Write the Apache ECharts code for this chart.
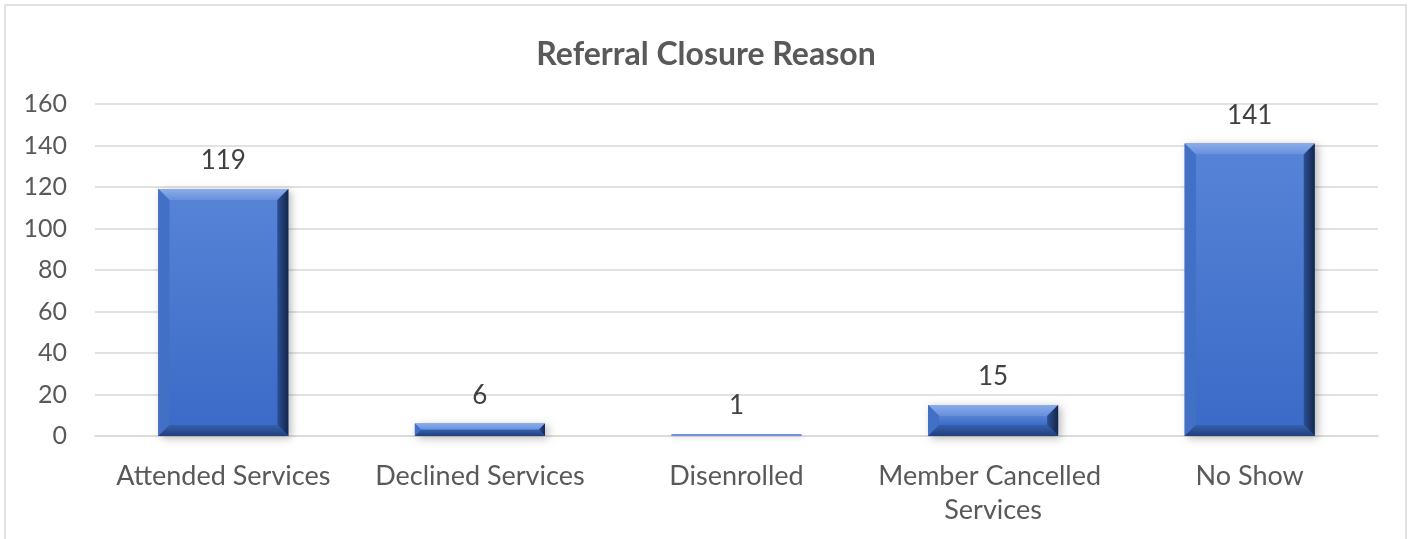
<!DOCTYPE html>
<html>
<head>
<meta charset="utf-8">
<script src="https://cdn.jsdelivr.net/npm/echarts@6/dist/echarts.min.js"></script>
<style>
  html, body { margin: 0; padding: 0; background: #ffffff; }
  #chart { width: 1412px; height: 539px; }
</style>
</head>
<body>
<div id="chart"></div>
<script>
// Referral closure reasons and their counts
const categories = ['Attended Services', 'Declined Services', 'Disenrolled', 'Member Cancelled Services', 'No Show'];
const counts = [119, 6, 1, 15, 141];
const yMin = 0, yMax = 160, yStep = 20;

const FONT = 'Lato, "Open Sans", sans-serif';

function valueText(x, y, v) {
  return {
    type: 'text',
    style: {
      text: String(v), x: x, y: y,
      align: 'center', verticalAlign: 'middle',
      fill: '#404040', font: '26px ' + FONT
    }
  };
}

// Bevelled column: a flat face framed by four shaded edges
function renderBevelBar(params, api) {
  const idx = api.value(0);
  const v = api.value(1);
  const top = api.coord([idx, v]);
  const base = api.coord([idx, 0]);
  const bw = api.size([1, 0])[0] * 0.507;
  const x0 = top[0] - bw / 2, x1 = top[0] + bw / 2;
  const y0 = top[1], y1 = base[1];
  const h = Math.max(y1 - y0, 1);
  const b = Math.min(11, h / 2, bw / 2);

  if (h < 4) {
    // very short column: a thin blue line
    return {
      type: 'group',
      children: [
        {
          type: 'rect',
          shape: { x: x0, y: y0, width: bw, height: h },
          style: { fill: '#6f94dc', shadowBlur: 4, shadowColor: 'rgba(0,0,0,0.15)', shadowOffsetY: 2 }
        },
        valueText(top[0], y0 - 28, v)
      ]
    };
  }

  const poly = (pts, fill) => ({ type: 'polygon', shape: { points: pts }, style: { fill: fill } });
  return {
    type: 'group',
    children: [
      {
        type: 'rect',
        shape: { x: x0, y: y0, width: bw, height: h },
        style: {
          fill: '#3f6fcb',
          shadowBlur: 8, shadowColor: 'rgba(0,0,0,0.28)', shadowOffsetX: 3, shadowOffsetY: 2
        }
      },
      {
        type: 'rect',
        shape: { x: x0 + b, y: y0 + b, width: bw - 2 * b, height: h - 2 * b },
        style: {
          fill: new echarts.graphic.LinearGradient(0, 0, 0, 1, [
            { offset: 0, color: '#5683d6' },
            { offset: 1, color: '#3b6bc8' }
          ])
        }
      },
      poly([[x0, y0], [x1, y0], [x1 - b, y0 + b], [x0 + b, y0 + b]],
        new echarts.graphic.LinearGradient(0, 0, 0, 1, [
          { offset: 0, color: '#8aacea' },
          { offset: 1, color: '#6790dc' }
        ])),
      poly([[x0, y0], [x0 + b, y0 + b], [x0 + b, y1 - b], [x0, y1]], '#4270c4'),
      poly([[x1, y0], [x1, y1], [x1 - b, y1 - b], [x1 - b, y0 + b]],
        new echarts.graphic.LinearGradient(1, 0, 0, 0, [
          { offset: 0, color: '#14264a' },
          { offset: 1, color: '#2c4f94' }
        ])),
      poly([[x0, y1], [x0 + b, y1 - b], [x1 - b, y1 - b], [x1, y1]],
        new echarts.graphic.LinearGradient(0, 1, 0, 0, [
          { offset: 0, color: '#223f7a' },
          { offset: 1, color: '#3460b0' }
        ])),
      valueText(top[0], y0 - 28, v)
    ]
  };
}

const chart = echarts.init(document.getElementById('chart'), null, { renderer: 'canvas' });
chart.setOption({
  backgroundColor: '#ffffff',
  animation: false,
  title: {
    text: 'Referral Closure Reason',
    left: 'center',
    top: 34,
    textStyle: { fontFamily: FONT, fontSize: 32, fontWeight: 'bold', color: '#595959' }
  },
  graphic: [{
    type: 'rect',
    shape: { x: 5, y: 5, width: 1401, height: 600 },
    style: { fill: 'none', stroke: '#d9d9d9', lineWidth: 1.5 },
    silent: true, z: -10
  }],
  grid: { left: 95, right: 34, top: 104, bottom: 103, containLabel: false },
  xAxis: {
    type: 'category',
    data: categories,
    axisLine: { show: true, lineStyle: { color: '#d9d9d9', width: 1.5 } },
    axisTick: { show: false },
    axisLabel: {
      interval: 0,
      margin: 23,
      width: 250,
      overflow: 'break',
      lineHeight: 34,
      fontFamily: FONT, fontSize: 27, color: '#595959'
    }
  },
  yAxis: {
    type: 'value',
    min: yMin, max: yMax, interval: yStep,
    axisLine: { show: false },
    axisTick: { show: false },
    splitLine: { lineStyle: { color: '#d9d9d9', width: 1.5 } },
    axisLabel: { margin: 28, fontFamily: FONT, fontSize: 25, color: '#595959' }
  },
  series: [{
    type: 'custom',
    renderItem: renderBevelBar,
    encode: { x: 0, y: 1 },
    data: counts.map((v, i) => [i, v]),
    z: 5
  }]
});
</script>
</body>
</html>
